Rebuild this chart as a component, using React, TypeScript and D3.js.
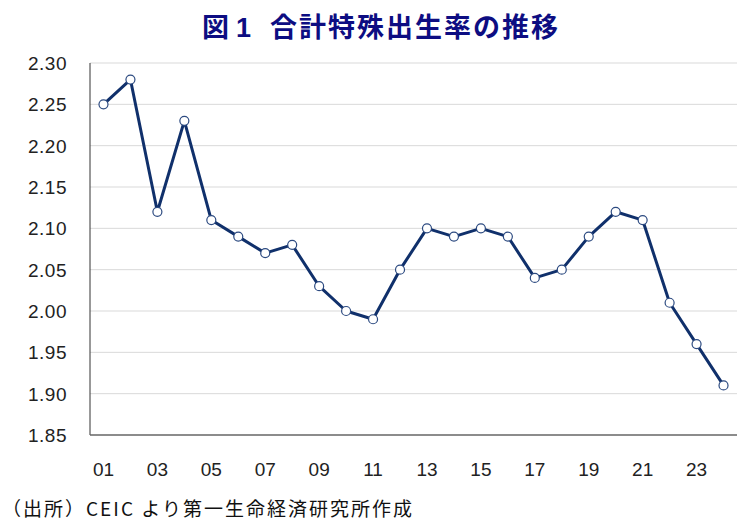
import React from "react";
import * as d3 from "d3";

const years = ["01","02","03","04","05","06","07","08","09","10","11","12","13","14","15","16","17","18","19","20","21","22","23","24"];
const tfr = [2.25,2.28,2.12,2.23,2.11,2.09,2.07,2.08,2.03,2.00,1.99,2.05,2.10,2.09,2.10,2.09,2.04,2.05,2.09,2.12,2.11,2.01,1.96,1.91];
const yTicks = [1.85,1.90,1.95,2.00,2.05,2.10,2.15,2.20,2.25,2.30];
const xLabels = ["01","03","05","07","09","11","13","15","17","19","21","23"];

const W = 751, H = 529;
const left = 90, right = 737, top = 63, bottom = 435;

export default function App() {
  const x = d3.scaleBand<string>().domain(years).range([left, right]);
  const y = d3.scaleLinear().domain([1.85, 2.30]).range([bottom, top]);
  const cx = (k: string) => (x(k) as number) + x.bandwidth() / 2;
  const line = d3.line<number>().x((_, i) => cx(years[i])).y((d) => y(d));
  const sans = "'Liberation Sans', Arial, sans-serif";
  const jp = "'Noto Sans CJK JP', sans-serif";
  return (
    <svg width={W} height={H} style={{ position: "absolute", left: 0, top: 0, background: "#fff" }}>
      <text y={37} fill="#0d0d82" fontFamily={jp} fontWeight="bold" fontSize={27}>
        <tspan x={202}>図</tspan>
        <tspan x={236} fontFamily={sans}>1</tspan>
        <tspan x={270} letterSpacing={2}>合計特殊出生率の推移</tspan>
      </text>
      {yTicks.map((t) => (
        <g key={t}>
          {t > 1.85 && <line x1={left} x2={right} y1={y(t)} y2={y(t)} stroke="#d9d9d9" strokeWidth={1} />}
          <text x={67} y={y(t) + 7} textAnchor="end" fontFamily={sans} fontSize={19} letterSpacing={0.5} fill="#222">{t.toFixed(2)}</text>
        </g>
      ))}
      <line x1={left} x2={left} y1={top} y2={bottom} stroke="#333" strokeWidth={1} />
      <line x1={left} x2={right} y1={bottom} y2={bottom} stroke="#666" strokeWidth={1.5} />
      {xLabels.map((k) => (
        <text key={k} x={cx(k)} y={476} textAnchor="middle" fontFamily={sans} fontSize={19} fill="#222">{k}</text>
      ))}
      <path d={line(tfr) || ""} fill="none" stroke="#10306b" strokeWidth={3} strokeLinejoin="round" />
      {tfr.map((v, i) => (
        <circle key={i} cx={cx(years[i])} cy={y(v)} r={4.5} fill="#fff" stroke="#2c4a80" strokeWidth={1.2} />
      ))}
      <text x={2} y={516} fontFamily={jp} fontSize={19} letterSpacing={2} fill="#111">（出所）CEIC より第一生命経済研究所作成</text>
    </svg>
  );
}
